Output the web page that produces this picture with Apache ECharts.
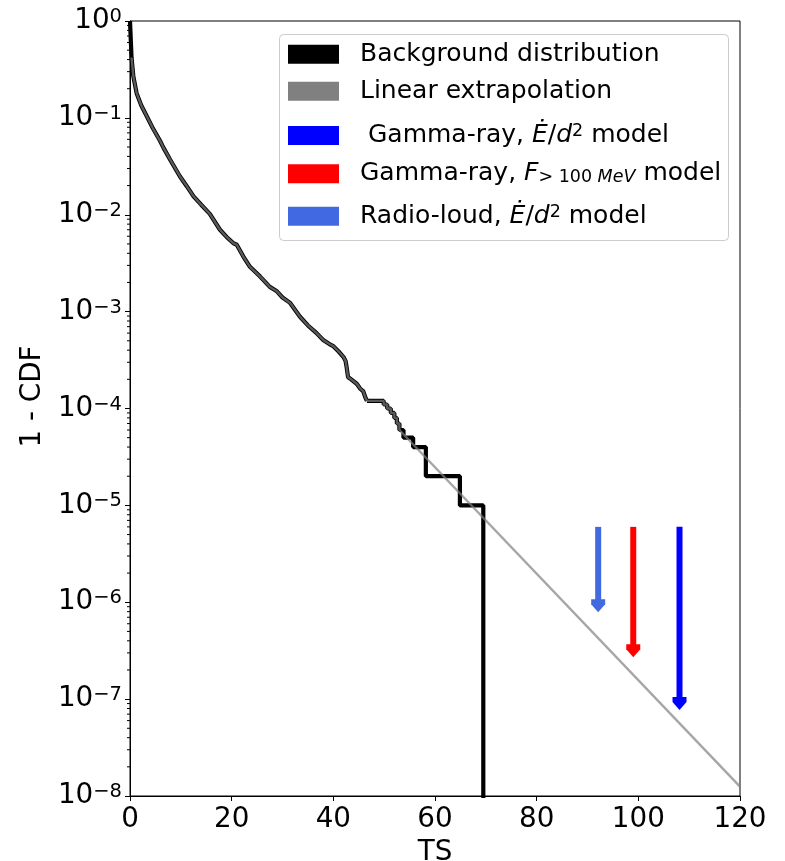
<!DOCTYPE html>
<html>
<head>
<meta charset="utf-8">
<script src="https://cdn.jsdelivr.net/npm/echarts@6/dist/echarts.min.js"></script>
<style>
  html, body { margin: 0; padding: 0; background: #fff; }
  #chart { width: 785px; height: 861px; }
</style>
</head>
<body>
<div id="chart"></div>
<script>
// Background TS distribution, 1 - CDF (smooth, densely populated part)
const bgTS  = [0, 0.25, 0.3, 0.65, 1.3, 2.2, 3.3, 4.5, 5.9, 6.6, 7.9, 9.8, 11.2, 12.5, 14.0,
               15.7, 17.7, 19.0, 20.3, 21.0, 22.3, 23.6, 25.6, 27.5, 28.9, 30.0, 31.5, 33.4,
               35.0, 36.7, 38.0, 39.3, 40.0, 41.0, 42.0, 42.4, 42.6, 42.9, 43.5, 44.6, 45.3,
               45.9, 46.3, 46.6];
const bgCDF = [1, 1, 0.42, 0.27, 0.18, 0.135, 0.104, 0.078, 0.058, 0.049, 0.037, 0.025, 0.0196,
               0.0155, 0.0127, 0.0102, 0.0070, 0.0059, 0.0051, 0.0049, 0.0037, 0.0029, 0.0023,
               0.0018, 0.00162, 0.0014, 0.00123, 0.00089, 0.00072, 0.00060, 0.00051, 0.00046,
               0.00044, 0.00039, 0.00034, 0.00031, 0.00027, 0.00021, 0.00020, 0.00018, 0.00016,
               0.00015, 0.00013, 0.00012];

// Sparse tail: individual trials, drawn as steps (last level drops to zero, off scale)
const stepTS  = [46.6, 49.9, 50.6, 51.3, 52.0, 52.5, 53.0, 53.8, 55.7, 58.2, 64.9, 69.5];
const stepCDF = [1.2e-4, 1.1e-4, 1.0e-4, 9e-5, 8e-5, 7e-5, 6e-5, 5e-5, 4e-5, 2e-5, 1e-5, 1e-9];

// Log-linear extrapolation: follows the data up to extrapFromTS, then a straight line to the end point
const extrapFromTS = 53.0;
const extrapEndTS  = 120;
const extrapEndCDF = 1.25e-8;

// Upper-limit arrows: TS, start level, end level
const arrowTS    = [92.1, 99.0, 108.1];
const arrowTop   = [6e-6, 6e-6, 6e-6];
const arrowTip   = [7.9e-7, 2.7e-7, 7.7e-8];
const arrowNames = ['Radio-loud', 'Gamma-ray F100', 'Gamma-ray Edot'];
const arrowColors = ['#4169E1', '#FF0000', '#0000FF'];

// Axis ticks
const xTicks = [0, 20, 40, 60, 80, 100, 120];
const yDecades = [-8, -7, -6, -5, -4, -3, -2, -1, 0];

const FONT = 'DejaVu Sans';
const AX = 27.8;   // tick / axis-title size
const LG = 25;     // legend size

const bgData = bgTS.map((t, i) => [t, bgCDF[i]]);
const stepData = stepTS.map((t, i) => [t, stepCDF[i]]);
const extrapSmooth = bgData.slice(2);
const extrapSteps = stepData.filter(d => d[0] <= extrapFromTS);
const extrapLine = [extrapSteps[extrapSteps.length - 1], [extrapEndTS, extrapEndCDF]];

// log minor ticks 2..9 x 10^k
const minorData = [];
for (let k = yDecades[0]; k < yDecades[yDecades.length - 1]; k++) {
  for (let m = 2; m <= 9; m++) minorData.push([xTicks[0], m * Math.pow(10, k)]);
}

function arrowItem(params, api) {
  const x = api.value(0);
  const p0 = api.coord([x, api.value(1)]);
  const p1 = api.coord([x, api.value(2)]);
  const color = api.visual('color');
  const sw = 3, hw = 7, hl = 13, side = 5;
  return {
    type: 'group',
    children: [
      { type: 'rect',
        shape: { x: p0[0] - sw, y: p0[1], width: 2 * sw, height: p1[1] - hl - p0[1] + 1 },
        style: { fill: color } },
      { type: 'polygon',
        shape: { points: [[p1[0] - hw, p1[1] - hl], [p1[0] + hw, p1[1] - hl],
                          [p1[0] + hw, p1[1] - hl + side], [p1[0], p1[1]],
                          [p1[0] - hw, p1[1] - hl + side]] },
        style: { fill: color } }
    ]
  };
}

function minorTickItem(params, api) {
  const p = api.coord([api.value(0), api.value(1)]);
  return { type: 'line', shape: { x1: p[0] - 3, y1: p[1], x2: p[0], y2: p[1] },
           style: { stroke: '#000', lineWidth: 1 } };
}

const legendRich = {
  n:     { fontFamily: FONT, fontSize: LG, lineHeight: 26, color: '#000' },
  it:    { fontFamily: FONT, fontSize: LG, lineHeight: 26, fontStyle: 'italic', color: '#000' },
  sup:   { fontFamily: FONT, fontSize: 17.5, lineHeight: 14, verticalAlign: 'top', color: '#000' },
  sub:   { fontFamily: FONT, fontSize: 17.5, lineHeight: 10, verticalAlign: 'bottom', color: '#000' },
  subit: { fontFamily: FONT, fontSize: 17.5, lineHeight: 10, verticalAlign: 'bottom', fontStyle: 'italic', color: '#000' }
};

const legendLabels = {
  'Background distribution': '{n|Background distribution}',
  'Linear extrapolation': '{n|Linear extrapolation}',
  'Gamma-ray Edot': '{n| Gamma-ray, }{it|Ė}{n|/}{it|d}{sup|2}{n| model}',
  'Gamma-ray F100': '{n|Gamma-ray, }{it|F}{sub|> 100 }{subit|MeV}{n| model}',
  'Radio-loud': '{n|Radio-loud, }{it|Ė}{n|/}{it|d}{sup|2}{n| model}'
};
const legendRows = [
  { name: 'Background distribution', color: '#000000', top: 41.2 },
  { name: 'Linear extrapolation',    color: '#808080', top: 78.2 },
  { name: 'Gamma-ray Edot',          color: '#0000FF', top: 122.5 },
  { name: 'Gamma-ray F100',          color: '#FF0000', top: 160.7 },
  { name: 'Radio-loud',              color: '#4169E1', top: 203.3 }
];

const legends = legendRows.map(r => ({
  left: 288, top: r.top, padding: 0, orient: 'vertical',
  itemWidth: 51, itemHeight: 19, icon: 'rect', selectedMode: false, z: 6,
  data: [{ name: r.name, icon: 'rect', itemStyle: { color: r.color, opacity: 1, borderWidth: 0 } }],
  formatter: name => legendLabels[name],
  textStyle: { fontFamily: FONT, fontSize: LG, lineHeight: 26, color: '#000',
               padding: [0, 0, 0, 16], rich: legendRich }
}));

const blackLine = { color: '#000', width: 4.2 };
const grayLine = { color: '#808080', width: 2.4, opacity: 0.7 };
const series = [
  { name: 'Background distribution', type: 'line', data: bgData, showSymbol: false,
    lineStyle: blackLine, itemStyle: { color: '#000' }, z: 2 },
  { name: 'Background distribution', type: 'line', data: stepData, step: 'end', showSymbol: false,
    lineStyle: blackLine, itemStyle: { color: '#000' }, z: 2 },
  { name: 'Linear extrapolation', type: 'line', data: extrapSmooth, showSymbol: false,
    lineStyle: grayLine, itemStyle: { color: '#808080' }, z: 3 },
  { name: 'Linear extrapolation', type: 'line', data: extrapSteps, step: 'end', showSymbol: false,
    lineStyle: grayLine, itemStyle: { color: '#808080' }, z: 3 },
  { name: 'Linear extrapolation', type: 'line', data: extrapLine, showSymbol: false,
    lineStyle: grayLine, itemStyle: { color: '#808080' }, z: 3 },
  { name: 'minor', type: 'custom', renderItem: minorTickItem, data: minorData, clip: false,
    silent: true, z: 5 }
];
arrowNames.forEach((nm, i) => {
  series.push({ name: nm, type: 'custom', renderItem: arrowItem,
    itemStyle: { color: arrowColors[i] }, z: 4,
    data: [[arrowTS[i], arrowTop[i], arrowTip[i]]] });
});

const axisFont = { fontFamily: FONT, fontSize: AX, color: '#000' };

const option = {
  animation: false,
  backgroundColor: '#fff',
  grid: { left: 130, right: 45, top: 21, bottom: 65, show: true, containLabel: false,
          outerBoundsMode: 'none',
          borderColor: '#000', borderWidth: 1, backgroundColor: 'transparent' },
  xAxis: {
    type: 'value', min: xTicks[0], max: xTicks[xTicks.length - 1], interval: 20,
    axisLine: { show: true, lineStyle: { color: '#000', width: 1 } },
    axisTick: { show: true, inside: false, length: 5, lineStyle: { color: '#000' } },
    splitLine: { show: false },
    axisLabel: Object.assign({ margin: 10 }, axisFont),
    name: 'TS', nameLocation: 'middle', nameGap: 41,
    nameTextStyle: axisFont
  },
  yAxis: {
    type: 'log', logBase: 10, min: Math.pow(10, yDecades[0]), max: Math.pow(10, yDecades[yDecades.length - 1]),
    interval: 1,
    axisLine: { show: true, lineStyle: { color: '#000', width: 1 } },
    axisTick: { show: true, inside: false, length: 5, lineStyle: { color: '#000' } },
    splitLine: { show: false },
    minorTick: { show: false },
    axisLabel: {
      margin: 8,
      formatter: v => {
        const e = Math.round(Math.log10(v));
        return '{b|10}{s|' + (e < 0 ? '\u2212' + (-e) : e) + '}';
      },
      rich: {
        b: { fontFamily: FONT, fontSize: AX, lineHeight: 28, color: '#000' },
        s: { fontFamily: FONT, fontSize: 19.5, lineHeight: 13, verticalAlign: 'top', color: '#000' }
      }
    },
    name: '1 - CDF', nameLocation: 'middle', nameGap: 75,
    nameTextStyle: Object.assign({ padding: [0, 0, 0, 24] }, axisFont)
  },
  legend: legends,
  graphic: [{
    type: 'rect', z: 5, left: 279, top: 34,
    shape: { width: 449, height: 206, r: 4 },
    style: { fill: 'rgba(255,255,255,0.8)', stroke: '#cccccc', lineWidth: 1 }
  }],
  series: series
};

const chart = echarts.init(document.getElementById('chart'), null, { renderer: 'canvas' });
chart.setOption(option);
</script>
</body>
</html>
